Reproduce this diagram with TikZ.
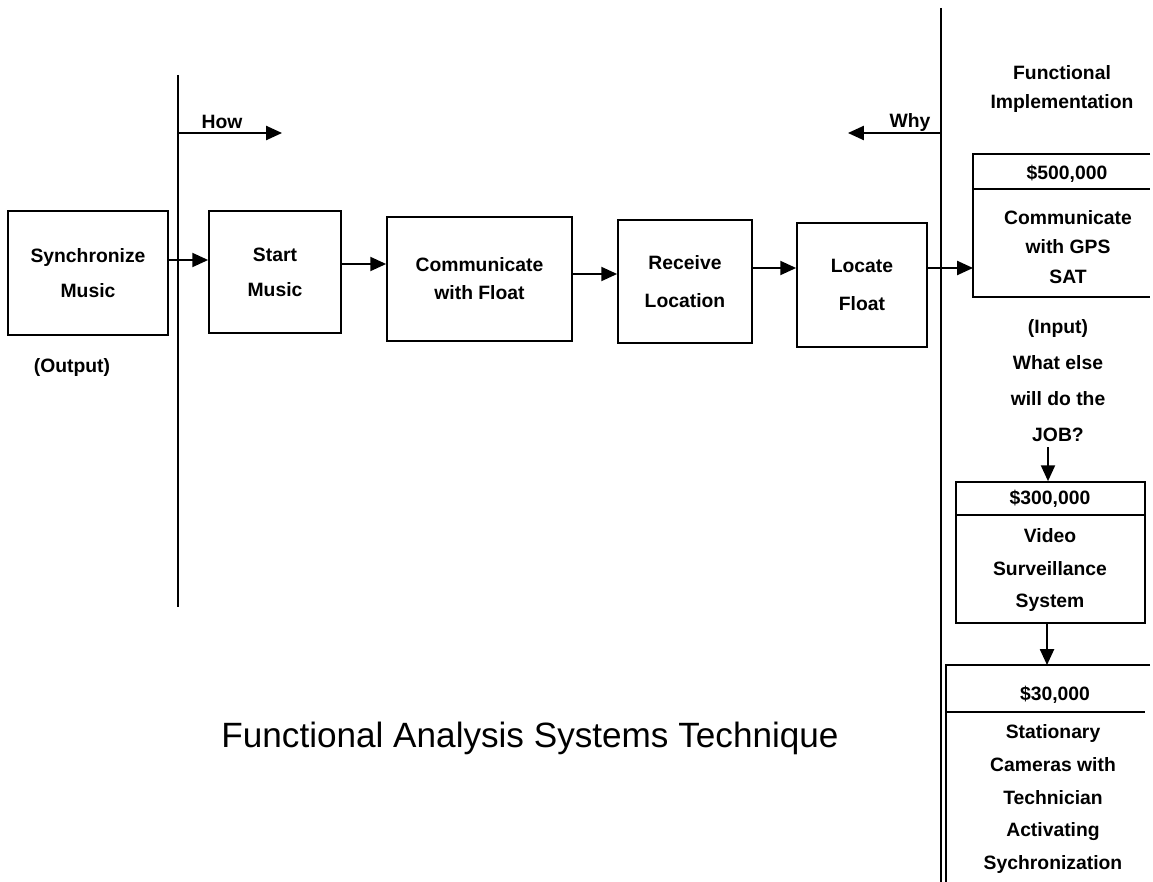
\documentclass[tikz,border=0pt]{standalone}
\usepackage{fontspec}
\setmainfont{Liberation Sans}
\usetikzlibrary{arrows.meta,positioning}

\tikzset{
  fbox/.style={draw, line width=1pt, align=center, inner sep=0pt,
    font=\fontsize{11}{20}\selectfont\bfseries},
  btxt/.style={align=center, inner sep=0pt, font=\fontsize{11}{20}\selectfont\bfseries},
  arr/.style={line width=1pt, -{Triangle[length=9pt,width=8pt]}},
  sepline/.style={line width=0.6pt},
  boxline/.style={line width=1pt},
}

\begin{document}
\begin{tikzpicture}[x=0.02cm,y=-0.02cm]
\useasboundingbox (0,0) rectangle (1153,882);

% the two dividing lines
\draw[sepline] (178,75) -- (178,607);
\draw[sepline] (941,8) -- (941,882);

% how / why
\node[btxt] (how) at (222,122) {How};
\coordinate (howfrom) at (178,133);
\coordinate (howto) at (282,133);
\draw[arr] (howfrom) -- (howto);
\node[btxt] (why) at (910,123) {Why};
\coordinate (whyfrom) at (941,133);
\coordinate (whyto) at (848,133);
\draw[arr] (whyfrom) -- (whyto);

% function chain
\node[fbox, minimum width=3.2cm, minimum height=2.48cm] (sync) at (88,273) {Synchronize\\Music};
\node[fbox, minimum width=2.64cm, minimum height=2.44cm] (start) at (275,272) {Start\\Music};
\node[fbox, minimum width=3.7cm, minimum height=2.48cm] (comm) at (479.5,279) {Communicate\\[-4pt]with Float};
\node[fbox, minimum width=2.68cm, minimum height=2.46cm] (recv) at (685,281.5) {Receive\\[1.5pt]Location};
\node[fbox, minimum width=2.6cm, minimum height=2.48cm] (loc) at (862,285) {Locate\\[2pt]Float};
\node[btxt] (output) at (72,368) {(Output)};

\draw[arr] (sync.east |- 0,260) -- (start.west |- 0,260);
\draw[arr] (start.east |- 0,264) -- (comm.west |- 0,264);
\draw[arr] (comm.east |- 0,274) -- (recv.west |- 0,274);
\draw[arr] (recv.east |- 0,268) -- (loc.west |- 0,268);

% functional implementation
\node[btxt, font=\fontsize{11}{16}\selectfont\bfseries] (impl) at (1062,89) {Functional\\Implementation};
\coordinate (gpsin) at (973,268);
\draw[arr] (loc.east |- gpsin) -- (gpsin);
\draw[boxline] (1150,154) -- (973,154) -- (973,297) -- (1150,297);
\draw[sepline] (973,189) -- (1150,189);
\node[btxt] (cost1) at (1067,174) {\$500,000};
\node[btxt, font=\fontsize{11}{17}\selectfont\bfseries] (gps) at (1068,247) {Communicate\\with GPS\\SAT};

\node[btxt, font=\fontsize{11}{20.5}\selectfont\bfseries] (ask) at (1058,381) {(Input)\\What else\\will do the\\JOB?};

\node[draw, line width=1pt, minimum width=3.78cm, minimum height=2.82cm] (vidbox) at (1050.5,552.5) {};
\draw[sepline] (vidbox.west |- 0,515) -- (vidbox.east |- 0,515);
\node[btxt] (cost2) at (1050,499) {\$300,000};
\node[btxt, font=\fontsize{11}{18.4}\selectfont\bfseries] (video) at (1050,570) {Video\\Surveillance\\System};
\coordinate (askout) at (1048,447);
\draw[arr] (askout) -- (vidbox.north -| askout);

\coordinate (camtop) at (1047,665);
\draw[arr] (vidbox.south -| camtop) -- (camtop);
\draw[boxline] (1150,665) -- (946,665) -- (946,882);
\draw[sepline] (946,712) -- (1145,712);
\node[btxt] (cost3) at (1055,695) {\$30,000};
\node[btxt, font=\fontsize{11}{18.7}\selectfont\bfseries] (cams) at (1053,799) {Stationary\\Cameras with\\Technician\\Activating\\Sychronization};

% title
\node[inner sep=0pt, font=\fontsize{20}{24}\selectfont] (title) at (530,738) {Functional Analysis Systems Technique};
\end{tikzpicture}
\end{document}
